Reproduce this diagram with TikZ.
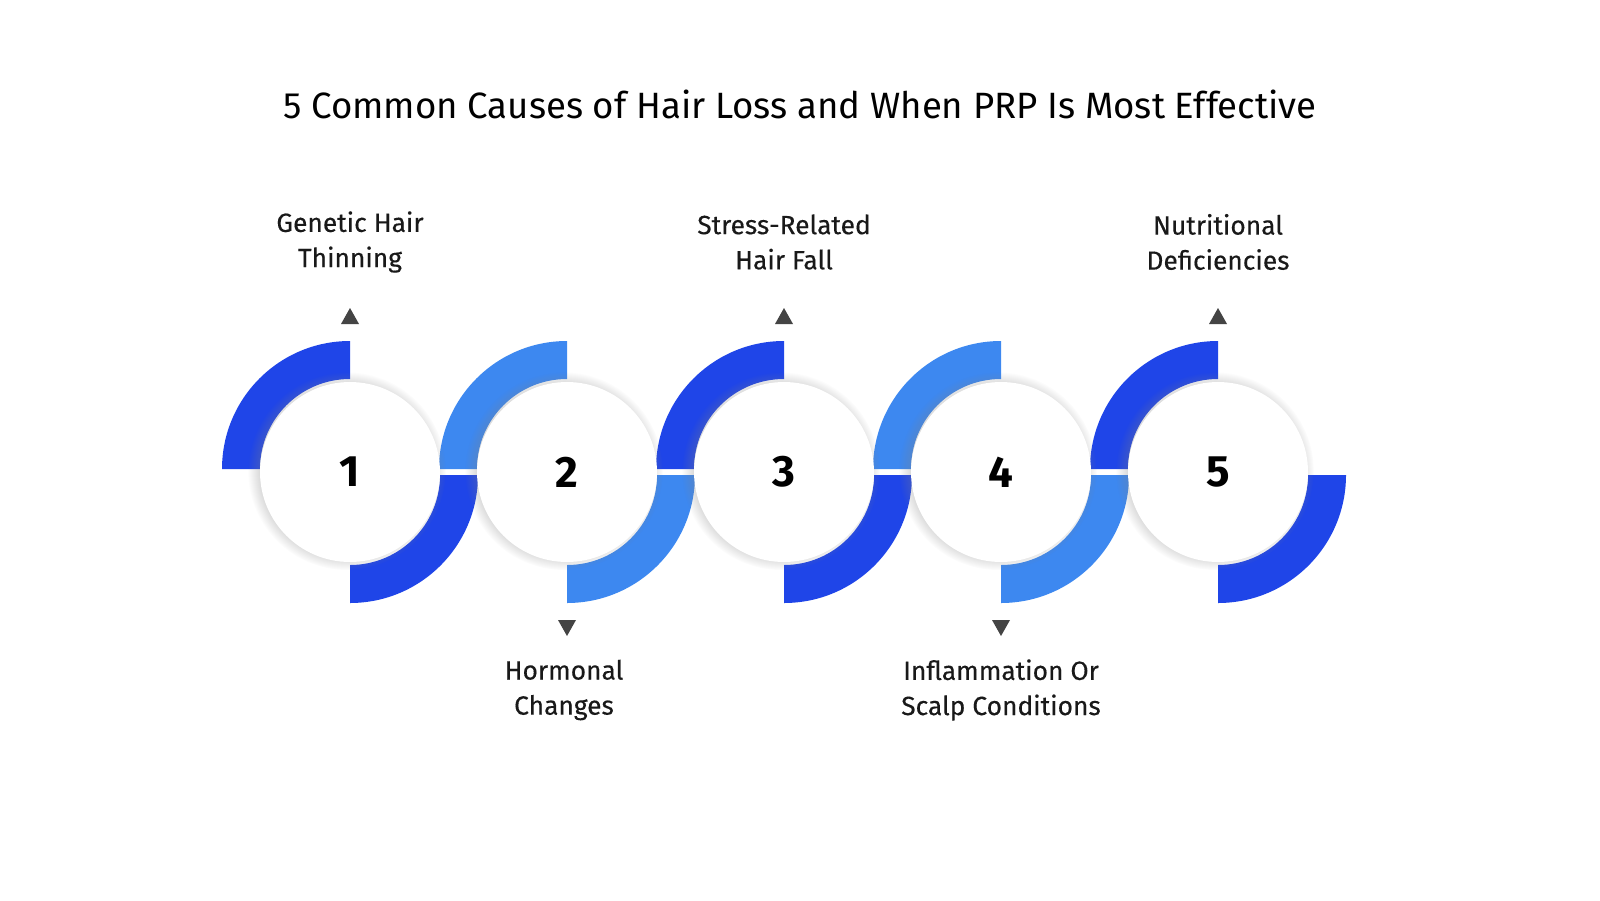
\documentclass[tikz,border=0pt]{standalone}
\usepackage{fontspec}
\setmainfont{Fira Sans}
\usetikzlibrary{shadows}
\definecolor{dblue}{HTML}{1F45E8}
\definecolor{lblue}{HTML}{3D88F0}
\definecolor{tri}{HTML}{444444}
\tikzset{
  x=1.0245pt,y=1.0245pt,
  disc/.style={circle,fill=white,minimum size=184.4pt,inner sep=0pt,
    circular drop shadow={shadow xshift=-3pt,shadow yshift=1pt,opacity=0.35},
    font=\fontsize{45}{48}\selectfont\bfseries},
  lbl/.style={align=center,font=\fontsize{27}{36}\selectfont\addfontfeatures{FakeBold=0.3},text=black!90},
}
\newcommand{\ringpair}[2]{% x, colour
  \fill[#2] (#1-128,-469) arc[start angle=180,end angle=90,radius=128]
     -- (#1,-469+90) arc[start angle=90,end angle=180,radius=90] -- cycle;
  \fill[#2] (#1,-475-128) arc[start angle=270,end angle=360,radius=128]
     -- (#1+90,-475) arc[start angle=360,end angle=270,radius=90] -- cycle;
}
\begin{document}
\begin{tikzpicture}
\useasboundingbox (0,0) rectangle (1600,-900);
\fill[white] (0,0) rectangle (1600,-900);
\node[font=\fontsize{37.5}{42}\selectfont] (title) at (800,-104) {5 Common Causes of Hair Loss and When PRP Is Most Effective};
\ringpair{350}{dblue}
\ringpair{567}{lblue}
\ringpair{784}{dblue}
\ringpair{1001}{lblue}
\ringpair{1218}{dblue}
\node[disc] (n1) at (350,-472) {1};
\node[disc] (n2) at (567,-472) {2};
\node[disc] (n3) at (784,-472) {3};
\node[disc] (n4) at (1001,-472) {4};
\node[disc] (n5) at (1218,-472) {5};
\foreach \x in {350,784,1218}
  \fill[tri] (\x-9,-324) -- (\x+9,-324) -- (\x,-308) -- cycle;
\foreach \x in {567,1001}
  \fill[tri] (\x-9,-620) -- (\x+9,-620) -- (\x,-636) -- cycle;
\node[lbl] (l1) at (350,-242) {Genetic Hair\\Thinning};
\node[lbl] (l3) at (784,-242) {Stress-Related\\Hair Fall};
\node[lbl] (l5) at (1218,-242) {Nutritional\\Deficiencies};
\node[lbl] (l2) at (564,-690) {Hormonal\\Changes};
\node[lbl] (l4) at (1001,-690) {Inflammation Or\\Scalp Conditions};
\end{tikzpicture}
\end{document}
